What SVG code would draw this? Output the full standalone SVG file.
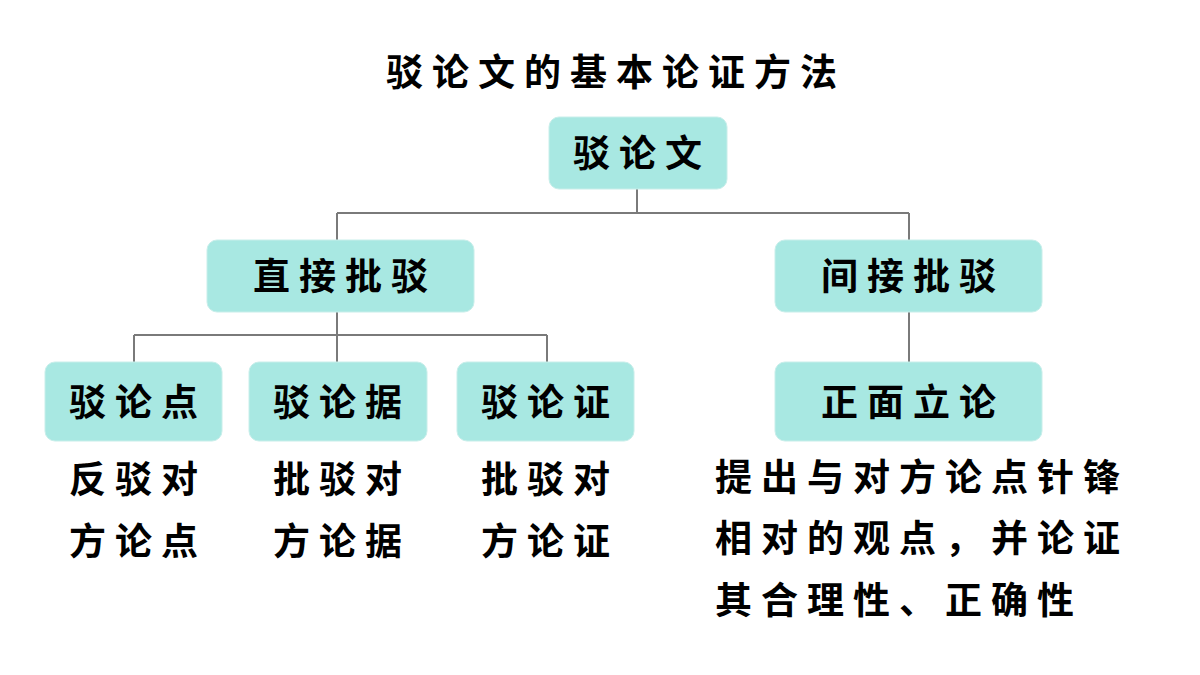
<svg xmlns="http://www.w3.org/2000/svg" width="1200" height="675" viewBox="0 0 1200 675">
<style>
text{font-family:"Noto Sans CJK SC","Noto Sans",sans-serif;font-weight:bold;fill:#000;font-size:37px;letter-spacing:9px}
.c{text-anchor:middle}
.box{fill:#a8e8e2;stroke:#c8eeea;stroke-width:1}
.ln{stroke:#7a7a7a;stroke-width:2;fill:none}
</style>
<rect width="1200" height="675" fill="#fff"/>
<text class="c" x="616" y="86">驳论文的基本论证方法</text>
<g id="connectors">
<path class="ln" d="M637 189V213M337 213H909M337 213V240M909 213V240M337 312V335M134 335H547M134 335V362M337 335V362M547 335V362M909 312V362"/>
</g>
<g id="n0"><rect class="box" x="549" y="117" width="178" height="72" rx="10"/><text class="c" x="642" y="167">驳论文</text></g>
<g id="n1"><rect class="box" x="207" y="240" width="267" height="72" rx="10"/><text class="c" x="345" y="290">直接批驳</text></g>
<g id="n2"><rect class="box" x="775" y="240" width="267" height="72" rx="10"/><text class="c" x="913" y="290">间接批驳</text></g>
<g id="n3"><rect class="box" x="45" y="362" width="177" height="79" rx="10"/><text class="c" x="138" y="416">驳论点</text></g>
<g id="n4"><rect class="box" x="249" y="362" width="178" height="79" rx="10"/><text class="c" x="342" y="416">驳论据</text></g>
<g id="n5"><rect class="box" x="457" y="362" width="177" height="79" rx="10"/><text class="c" x="550" y="416">驳论证</text></g>
<g id="n6"><rect class="box" x="775" y="362" width="267" height="79" rx="10"/><text class="c" x="913" y="416">正面立论</text></g>
<g id="t1"><text class="c" x="138" y="493">反驳对</text><text class="c" x="138" y="555">方论点</text></g>
<g id="t2"><text class="c" x="342" y="493">批驳对</text><text class="c" x="342" y="555">方论据</text></g>
<g id="t3"><text class="c" x="550" y="493">批驳对</text><text class="c" x="550" y="555">方论证</text></g>
<g id="t4"><text x="715" y="491">提出与对方论点针锋</text><text x="715" y="552">相对的观点，并论证</text><text x="715" y="614">其合理性、正确性</text></g>
</svg>
